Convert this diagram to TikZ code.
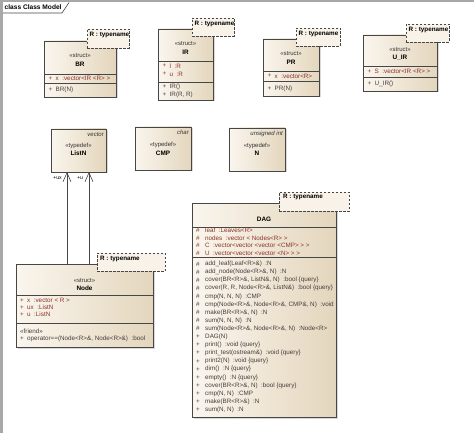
\documentclass[tikz,border=0pt]{standalone}
\usepackage{fontspec}
\setmainfont{Liberation Sans}
\usetikzlibrary{shadows,arrows.meta,calc}
\definecolor{boxL}{RGB}{250,246,238}
\definecolor{boxR}{RGB}{228,214,189}
\definecolor{tmplC}{RGB}{248,242,232}
\definecolor{lineC}{RGB}{70,70,70}
\definecolor{attrC}{RGB}{140,50,40}
\definecolor{opC}{RGB}{70,60,60}
\definecolor{frameC}{RGB}{168,168,168}
\begin{document}
\begin{tikzpicture}[x=1pt,y=-1pt,
  classbox/.style={draw=lineC, line width=0.6pt, left color=boxL, right color=boxR,
    drop shadow={shadow xshift=1.5pt, shadow yshift=-1.5pt, fill=black, opacity=0.15},
    anchor=north west, inner sep=0pt, outer sep=0pt},
  tmplbox/.style={draw=lineC, line width=0.7pt, dash pattern=on 2.5pt off 1.5pt, fill=tmplC,
    anchor=north west, inner sep=0pt, outer sep=0pt},
  sepline/.style={draw=lineC, line width=0.6pt},
  txt/.style={font=\fontsize{6.3}{7.5}\selectfont, inner sep=0pt, anchor=west},
  attr/.style={txt, text=attrC},
  op/.style={txt, text=opC},
  ster/.style={font=\fontsize{6}{7}\selectfont, inner sep=0pt, anchor=center, text=black!80},
  cname/.style={font=\fontsize{6.4}{7.5}\selectfont\bfseries, inner sep=0pt, anchor=center},
  tname/.style={font=\fontsize{6.3}{7.5}\selectfont\bfseries, inner sep=0pt, anchor=west},
  tdef/.style={font=\fontsize{6}{7}\selectfont\itshape, inner sep=0pt, anchor=east, text=black!80},
  assoc/.style={draw=lineC, line width=0.6pt, -{Straight Barb[length=9pt,width=8pt]}},
  rolelbl/.style={font=\fontsize{5.2}{6}\selectfont, inner sep=0pt, anchor=center}
]
\useasboundingbox (0,0) rectangle (474,433);
% frame
\fill[frameC] (0,0) rectangle (474,2.5);
\fill[frameC] (0,0) rectangle (3,433);
\draw[lineC, line width=0.6pt] (3,13) -- (62,13) -- (69,2.5);
\node[font=\fontsize{6.6}{8}\selectfont\bfseries, inner sep=0pt, anchor=west] (frametitle) at (4.5,7.5) {class Class Model};

% ---------- BR ----------
\node[classbox, minimum width=72pt, minimum height=56pt] (br) at (44,41) {};
\draw[sepline] (br.west |- 0,74) -- (br.east |- 0,74);
\draw[sepline] (br.west |- 0,83) -- (br.east |- 0,83);
\node[ster] (brs) at (80,55.5) {«struct»};
\node[cname] (brn) at (80,64) {BR};
\node[attr] (bra0) at (48.5,78.5) {+};
\node[attr] (bra1) at (55.5,78.5) {x\ \ :vector<IR <R> >};
\node[op] (bro0) at (48.5,89.5) {+};
\node[op] (bro1) at (55.5,89.5) {BR(N)};
\node[tmplbox, minimum width=42pt, minimum height=19pt] (brt) at (87,29) {};
\node[tname] (brtt) at (89.5,35) {R : typename};

% ---------- IR ----------
\node[classbox, minimum width=55pt, minimum height=71pt] (ir) at (158,29) {};
\draw[sepline] (ir.west |- 0,61) -- (ir.east |- 0,61);
\draw[sepline] (ir.west |- 0,82) -- (ir.east |- 0,82);
\node[ster] (irs) at (185.5,44) {«struct»};
\node[cname] (irn) at (185.5,52.5) {IR};
\node[attr] (ira0) at (162.5,66) {+};
\node[attr] (ira1) at (169.5,66) {l\ \ :R};
\node[attr] (ira2) at (162.5,74) {+};
\node[attr] (ira3) at (169.5,74) {u\ \ :R};
\node[op] (iro0) at (162.5,87) {+};
\node[op] (iro1) at (169.5,87) {IR()};
\node[op] (iro2) at (162.5,95) {+};
\node[op] (iro3) at (169.5,95) {IR(R, R)};
\node[tmplbox, minimum width=42pt, minimum height=18pt] (irt) at (192,18) {};
\node[tname] (irtt) at (194.5,24) {R : typename};

% ---------- PR ----------
\node[classbox, minimum width=56pt, minimum height=57pt] (pr) at (263,39) {};
\draw[sepline] (pr.west |- 0,71) -- (pr.east |- 0,71);
\draw[sepline] (pr.west |- 0,81) -- (pr.east |- 0,81);
\node[ster] (prs) at (291,54) {«struct»};
\node[cname] (prn) at (291,62) {PR};
\node[attr] (pra0) at (267.5,76) {+};
\node[attr] (pra1) at (274.5,76) {x\ \ :vector<R>};
\node[op] (pro0) at (267.5,88.5) {+};
\node[op] (pro1) at (274.5,88.5) {PR(N)};
\node[tmplbox, minimum width=44pt, minimum height=18pt] (prt) at (296,28) {};
\node[tname] (prtt) at (298.5,34) {R : typename};

% ---------- U_IR ----------
\node[classbox, minimum width=74pt, minimum height=56pt] (uir) at (363,35) {};
\draw[sepline] (uir.west |- 0,66) -- (uir.east |- 0,66);
\draw[sepline] (uir.west |- 0,77) -- (uir.east |- 0,77);
\node[ster] (uirs) at (400,50) {«struct»};
\node[cname] (uirn) at (400,57.5) {U\_IR};
\node[attr] (uira0) at (367.5,71.5) {+};
\node[attr] (uira1) at (374.5,71.5) {S\ \ :vector<IR <R> >};
\node[op] (uiro0) at (367.5,84) {+};
\node[op] (uiro1) at (374.5,84) {U\_IR()};
\node[tmplbox, minimum width=43pt, minimum height=18pt] (uirt) at (406,24) {};
\node[tname] (uirtt) at (408.5,30) {R : typename};

% ---------- typedefs ----------
\node[classbox, minimum width=55pt, minimum height=43pt] (listn) at (51,129) {};
\node[tdef] (listnd) at (104,134.5) {vector};
\node[ster] (listns) at (78.5,146) {«typedef»};
\node[cname] (listnn) at (78.5,153.5) {ListN};

\node[classbox, minimum width=56pt, minimum height=43pt] (cmp) at (135,127) {};
\node[tdef] (cmpd) at (189,132.5) {char};
\node[ster] (cmps) at (163,145) {«typedef»};
\node[cname] (cmpn) at (163,153) {CMP};

\node[classbox, minimum width=56pt, minimum height=43pt] (nt) at (229,128) {};
\node[tdef] (ntd) at (283,133.5) {unsigned int};
\node[ster] (nts) at (257,145.5) {«typedef»};
\node[cname] (ntn) at (257,153) {N};

% ---------- Node ----------
\node[classbox, minimum width=137pt, minimum height=83pt] (nodeb) at (16,264) {};
\draw[sepline] (nodeb.west |- 0,295) -- (nodeb.east |- 0,295);
\draw[sepline] (nodeb.west |- 0,323) -- (nodeb.east |- 0,323);
\node[ster] (nodes) at (84.5,280.5) {«struct»};
\node[cname] (noden) at (84.5,288) {Node};
\node[attr] (nodea0) at (20,300.5) {+};
\node[attr] (nodea1) at (27,300.5) {x\ \ :vector < R >};
\node[attr] (nodea2) at (20,307.5) {+};
\node[attr] (nodea3) at (27,307.5) {ux\ \ :ListN};
\node[attr] (nodea4) at (20,314.5) {+};
\node[attr] (nodea5) at (27,314.5) {u\ \ :ListN};
\node[op] (nodef) at (20,331) {«friend»};
\node[op] (nodeo0) at (20,339) {+};
\node[op] (nodeo1) at (27,339) {operator==(Node<R>\&, Node<R>\&)\ \ :bool};
\node[tmplbox, minimum width=68pt, minimum height=18pt] (nodet) at (97,253) {};
\node[tname] (nodett) at (100,258.5) {R : typename};

% associations
\coordinate (uxc) at (67,0);
\coordinate (uc) at (89,0);
\draw[assoc] (nodeb.north -| uxc) -- (listn.south -| uxc);
\draw[assoc] (nodeb.north -| uc) -- (listn.south -| uc);
\node[rolelbl] (uxl) at (57.5,178.5) {+ux};
\node[rolelbl] (ul) at (80,178.5) {+u};

% ---------- DAG ----------
\node[classbox, minimum width=144pt, minimum height=214pt] (dag) at (192,203) {};
\draw[sepline] (dag.west |- 0,227) -- (dag.east |- 0,227);
\draw[sepline] (dag.west |- 0,257) -- (dag.east |- 0,257);
\node[cname] (dagn) at (264,219.5) {DAG};
\node[attr] at (196,230.5) {\#}; \node[attr] (dga1) at (205,230.5) {leaf\ \ :Leaves<R>};
\node[attr] at (196,238) {\#}; \node[attr] (dga2) at (205,238) {nodes\ \ :vector < Nodes<R> >};
\node[attr] at (196,245.5) {\#}; \node[attr] (dga3) at (205,245.5) {C\ \ :vector<vector <vector <CMP> > >};
\node[attr] at (196,253) {\#}; \node[attr] (dga4) at (205,253) {U\ \ :vector<vector <vector <N> > >};
\node[op] at (196,264) {\#}; \node[op] (dgo1) at (205,264) {add\_leaf(Leaf<R>\&)\ \ :N};
\node[op] at (196,272.1) {\#}; \node[op] (dgo2) at (205,272.1) {add\_node(Node<R>\&, N)\ \ :N};
\node[op] at (196,280.2) {\#}; \node[op] (dgo3) at (205,280.2) {cover(BR<R>\&, ListN\&, N)\ \ :bool \{query\}};
\node[op] at (196,288.3) {\#}; \node[op] (dgo4) at (205,288.3) {cover(R, R, Node<R>\&, ListN\&)\ \ :bool \{query\}};
\node[op] at (196,296.4) {\#}; \node[op] (dgo5) at (205,296.4) {cmp(N, N, N)\ \ :CMP};
\node[op] at (196,304.5) {\#}; \node[op] (dgo6) at (205,304.5) {cmp(Node<R>\&, Node<R>\&, CMP\&, N)\ \ :void};
\node[op] at (196,312.6) {\#}; \node[op] (dgo7) at (205,312.6) {make(BR<R>\&, N)\ \ :N};
\node[op] at (196,320.7) {\#}; \node[op] (dgo8) at (205,320.7) {sum(N, N, N)\ \ :N};
\node[op] at (196,328.8) {\#}; \node[op] (dgo9) at (205,328.8) {sum(Node<R>\&, Node<R>\&, N)\ \ :Node<R>};
\node[op] at (196,336.9) {+}; \node[op] (dgo10) at (205,336.9) {DAG(N)};
\node[op] at (196,345) {+}; \node[op] (dgo11) at (205,345) {print()\ \ :void \{query\}};
\node[op] at (196,353.1) {+}; \node[op] (dgo12) at (205,353.1) {print\_test(ostream\&)\ \ :void \{query\}};
\node[op] at (196,361.2) {+}; \node[op] (dgo13) at (205,361.2) {print2(N)\ \ :void \{query\}};
\node[op] at (196,369.3) {+}; \node[op] (dgo14) at (205,369.3) {dim()\ \ :N \{query\}};
\node[op] at (196,377.4) {+}; \node[op] (dgo15) at (205,377.4) {empty()\ \ :N \{query\}};
\node[op] at (196,385.5) {+}; \node[op] (dgo16) at (205,385.5) {cover(BR<R>\&, N)\ \ :bool \{query\}};
\node[op] at (196,393.6) {+}; \node[op] (dgo17) at (205,393.6) {cmp(N, N)\ \ :CMP};
\node[op] at (196,401.7) {+}; \node[op] (dgo18) at (205,401.7) {make(BR<R>\&)\ \ :N};
\node[op] at (196,409.8) {+}; \node[op] (dgo19) at (205,409.8) {sum(N, N)\ \ :N};
\node[tmplbox, minimum width=70pt, minimum height=19pt] (dagt) at (279,192) {};
\node[tname] (dagtt) at (283,197) {R : typename};
\end{tikzpicture}
\end{document}
